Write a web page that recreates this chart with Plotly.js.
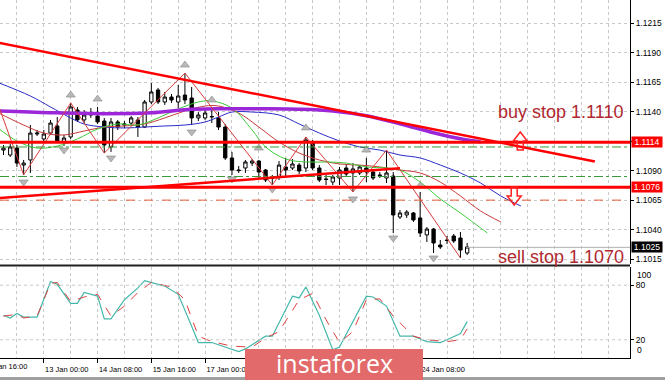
<!DOCTYPE html>
<html><head><meta charset="utf-8">
<script src="https://cdn.plot.ly/plotly-3.0.1.min.js"></script>
<style>html,body{margin:0;padding:0;background:#fff;}#chart{width:665px;height:380px;}</style>
</head><body><div id="chart"></div>
<script>
// ---- EURUSD H4 candles (bar index 0..69) ----
const openP = [1.11074,1.11032,1.11091,1.10947,1.10990,1.11210,1.11168,1.11218,1.11278,1.11142,
1.11185,1.11413,1.11329,1.11371,1.11362,1.11320,1.11100,1.11312,1.11286,1.11303,
1.11329,1.11269,1.11481,1.11583,1.11481,1.11523,1.11481,1.11540,1.11515,1.11346,
1.11346,1.11354,1.11346,1.11269,1.11007,1.10905,1.10922,1.10964,1.10981,1.10905,
1.10837,1.10846,1.10931,1.10922,1.10947,1.10922,1.11134,1.10922,1.10829,1.10803,
1.10837,1.10922,1.10880,1.10880,1.10922,1.10888,1.10863,1.10837,1.10854,1.10507,
1.10524,1.10541,1.10499,1.10355,1.10405,1.10270,1.10312,1.10346,1.10329,1.10202];
const highP = [1.11117,1.11125,1.11117,1.10990,1.11286,1.11244,1.11244,1.11329,1.11354,1.11202,
1.11473,1.11439,1.11413,1.11430,1.11439,1.11346,1.11346,1.11329,1.11320,1.11362,
1.11354,1.11498,1.11642,1.11600,1.11566,1.11549,1.11625,1.11726,1.11608,1.11396,
1.11413,1.11413,1.11396,1.11295,1.11058,1.10939,1.10990,1.10998,1.10990,1.10914,
1.10863,1.10981,1.11007,1.10998,1.10964,1.11185,1.11159,1.10947,1.10863,1.10863,
1.10931,1.10947,1.10964,1.10947,1.11007,1.10905,1.10888,1.11074,1.10888,1.10566,
1.10566,1.10549,1.10719,1.10422,1.10414,1.10312,1.10346,1.10363,1.10380,1.10287];
const lowP = [1.11032,1.11015,1.10931,1.10863,1.10880,1.11193,1.11142,1.11202,1.11134,1.11108,
1.11168,1.11312,1.11303,1.11346,1.11295,1.11049,1.11058,1.11244,1.11261,1.11278,
1.11185,1.11261,1.11464,1.11464,1.11456,1.11473,1.11430,1.11464,1.11286,1.11320,
1.11329,1.11303,1.11244,1.10990,1.10863,1.10880,1.10880,1.10939,1.10837,1.10803,
1.10778,1.10820,1.10846,1.10905,1.10871,1.10888,1.10905,1.10803,1.10778,1.10778,
1.10778,1.10846,1.10719,1.10863,1.10803,1.10820,1.10837,1.10795,1.10371,1.10490,
1.10499,1.10465,1.10338,1.10295,1.10202,1.10236,1.10278,1.10287,1.10160,1.10185];
const closeP = [1.11091,1.11100,1.10964,1.10964,1.11218,1.11218,1.11210,1.11303,1.11151,1.11176,
1.11439,1.11329,1.11371,1.11379,1.11312,1.11117,1.11312,1.11269,1.11295,1.11346,
1.11269,1.11481,1.11566,1.11481,1.11523,1.11498,1.11532,1.11498,1.11346,1.11371,
1.11388,1.11358,1.11269,1.11007,1.10905,1.10900,1.10973,1.10981,1.10888,1.10820,
1.10833,1.10947,1.10905,1.10956,1.10897,1.11159,1.10922,1.10820,1.10825,1.10846,
1.10905,1.10871,1.10914,1.10931,1.10888,1.10837,1.10859,1.10880,1.10524,1.10541,
1.10549,1.10482,1.10371,1.10405,1.10287,1.10253,1.10308,1.10304,1.10227,1.10253];
const bars = openP.map((_, i) => i);

// ---- time axis labels (labels under the logo are not visible in the reference) ----
const timeTickBars = [6,14,22,30,38,46,54,62];
const timeTickText = ['13 Jan 00:00','14 Jan 08:00','15 Jan 16:00','17 Jan 00:00','','','','24 Jan 08:00'];
const gridMinorBars = [2,10,18,26,34,42,50,58,66,70,74,78,82,86,90];
const priceTicks = [1.1015,1.1040,1.1065,1.1090,1.1115,1.1140,1.1165,1.1190,1.1215];
const priceTickText = ['1.1015','1.1040','1.1065','1.1090','','1.1140','1.1165','1.1190','1.1215'];

// ---- Alligator and MA lines (bar, price) ----
const jawBars = [-1,4,7,10,12,15,18,21,24,27,30,32,34,37,41,44,47,50,53,56,59,62,65,68,71,74,77];
const jawVals = [1.11650,1.11532,1.11439,1.11346,1.11295,1.11269,1.11261,1.11269,1.11278,1.11286,1.11312,1.11354,1.11396,1.11396,1.11371,1.11295,1.11218,1.11151,1.11100,1.11074,1.11032,1.11007,1.10947,1.10880,1.10795,1.10685,1.10600];
const teethBars = [-1,3,6,9,12,15,18,21,24,27,30,32,35,38,41,44,47,50,53,56,59,62,65,68,71,74];
const teethVals = [1.11396,1.11286,1.11218,1.11202,1.11235,1.11269,1.11278,1.11295,1.11346,1.11405,1.11447,1.11447,1.11388,1.11269,1.11142,1.11049,1.10990,1.10956,1.10947,1.10931,1.10905,1.10880,1.10803,1.10685,1.10558,1.10465];
const lipsBars = [-1,2,5,8,11,14,17,20,23,26,29,31,34,37,39,42,45,48,51,54,57,59,62,65,68,71,72];
const lipsVals = [1.11269,1.11151,1.11091,1.11108,1.11168,1.11252,1.11295,1.11286,1.11346,1.11422,1.11481,1.11490,1.11430,1.11244,1.11100,1.10998,1.10973,1.10973,1.10964,1.10931,1.10922,1.10905,1.10803,1.10660,1.10541,1.10414,1.10372];
const maBars = [-1,7,15,22,27,32,39,44,49,54,59,64,68,71];
const maVals = [1.11405,1.11390,1.11382,1.11390,1.11416,1.11424,1.11424,1.11420,1.11405,1.11365,1.11297,1.11221,1.11170,1.11145];

// ---- ZigZag ----
const zzBars = [-1,3,10,15,27,40,45,52,57,68];
const zzVals = [1.11490,1.10863,1.11473,1.11049,1.11726,1.10778,1.11185,1.10719,1.11074,1.10160];

// ---- Fractals ----
const fracUpBars = [10,14,27,31,38,45,54,62];
const fracUpVals = [1.11540,1.11506,1.11794,1.11498,1.11091,1.11261,1.11074,1.10770];
const fracDnBars = [3,9,16,28,34,40,52,58,64];
const fracDnVals = [1.10803,1.11074,1.11007,1.11227,1.10829,1.10744,1.10660,1.10329,1.10160];

// ---- Stochastic ----
const stochKBars = [0,1,2,3,5,6,7,8,10,11,12,14,15,16,18,20,21,24,26,28,29,31,33,35,36,39,40,43,44,45,47,49,50,54,55,57,59,61,63,65,66,68,69];
const stochKVals = [47,44,49,45,45,64,84,81,60,60,72,68,43,43,64,77,85,79,70,35,17,17,12,7,10,24,24,68,66,78,47,9,12,68,67,57,24,24,18,17,20,27,40];
const stochDBars = [0,2,3,5,7,8,10,12,14,16,18,20,22,25,27,29,31,34,37,39,41,44,46,48,50,52,54,56,58,61,63,66,68,69];
const stochDVals = [46,48,44,46,82,83,62,67,70,46,57,72,83,78,64,24,18,13,12,22,29,64,71,42,17,29,64,65,46,24,20,18,20,32];

// ---- Levels / objects ----
const redLevels = [1.1114, 1.1076];
const greenLevels = [1.1110, 1.1085];
const dashLevel = 1.1065;
const bidPrice = 1.1025;
const trendDown = {b0:-1, p0:1.11987, b1:88, p1:1.10977};
const trendUp = {b0:-1, p0:1.10666, b1:59, p1:1.10920};
const buyArrow = {bar:76.9, price:1.11151};
const sellArrow = {bar:76.0, price:1.10685};
const buyText = 'buy stop 1.1110', sellText = 'sell stop 1.1070';

const FONT = 'Liberation Sans, Arial, sans-serif';
const traces = [
  {type:'candlestick', x:bars, open:openP, high:highP, low:lowP, close:closeP, xaxis:'x', yaxis:'y',
   increasing:{line:{color:'#000',width:1}, fillcolor:'#ffffff'},
   decreasing:{line:{color:'#000',width:1}, fillcolor:'#000000'}, whiskerwidth:0, hoverinfo:'skip'},
  {type:'scatter', mode:'lines', x:jawBars, y:jawVals, line:{color:'#2b2bc8', width:1, shape:'spline'}, yaxis:'y'},
  {type:'scatter', mode:'lines', x:teethBars, y:teethVals, line:{color:'#c83a3a', width:1, shape:'spline'}, yaxis:'y'},
  {type:'scatter', mode:'lines', x:lipsBars, y:lipsVals, line:{color:'#3ccc3c', width:1, shape:'spline'}, yaxis:'y'},
  {type:'scatter', mode:'lines', x:maBars, y:maVals, line:{color:'#9b27d9', width:3.5, shape:'spline'}, yaxis:'y'},
  {type:'scatter', mode:'lines', x:zzBars, y:zzVals, line:{color:'#d83c3c', width:1}, yaxis:'y'},
  {type:'scatter', mode:'markers', x:fracUpBars, y:fracUpVals, marker:{symbol:'triangle-up', size:8, color:'#b8b8b8', line:{color:'#888888', width:0.6}}, yaxis:'y'},
  {type:'scatter', mode:'markers', x:fracDnBars, y:fracDnVals, marker:{symbol:'triangle-down', size:8, color:'#b8b8b8', line:{color:'#888888', width:0.6}}, yaxis:'y'},
  {type:'scatter', mode:'lines', x:stochKBars, y:stochKVals, line:{color:'#45b8aa', width:1.2}, xaxis:'x', yaxis:'y2'},
  {type:'scatter', mode:'lines', x:stochDBars, y:stochDVals, line:{color:'#e04040', width:1, dash:'dash'}, xaxis:'x', yaxis:'y2'}
];

const shapes = [];
redLevels.forEach(p => shapes.push({type:'line', xref:'paper', x0:0, x1:1, yref:'y', y0:p, y1:p, line:{color:'#ff0000', width:3}}));
greenLevels.forEach(p => shapes.push({type:'line', xref:'paper', x0:0, x1:1, yref:'y', y0:p, y1:p, line:{color:'#3a9a3a', width:1, dash:'dashdot'}}));
shapes.push({type:'line', xref:'paper', x0:0, x1:1, yref:'y', y0:dashLevel, y1:dashLevel, line:{color:'#e8603a', width:1, dash:'dash'}});
shapes.push({type:'line', xref:'paper', x0:0.74, x1:1, yref:'y', y0:bidPrice, y1:bidPrice, line:{color:'#b0b0b0', width:1}});
[trendDown, trendUp].forEach(t => shapes.push({type:'line', xref:'x', yref:'y', x0:t.b0, y0:t.p0, x1:t.b1, y1:t.p1, line:{color:'#ff0000', width:2.5}}));
shapes.push({type:'path', xref:'x', yref:'y', xsizemode:'pixel', ysizemode:'pixel', xanchor:buyArrow.bar, yanchor:buyArrow.price,
  path:'M0,9 L-7,0 L-3,0 L-3,-9 L3,-9 L3,0 L7,0 Z', line:{color:'#ff2020', width:1.5}, fillcolor:'rgba(0,0,0,0)'});
shapes.push({type:'path', xref:'x', yref:'y', xsizemode:'pixel', ysizemode:'pixel', xanchor:sellArrow.bar, yanchor:sellArrow.price,
  path:'M0,-9 L-7,0 L-3,0 L-3,9 L3,9 L3,0 L7,0 Z', line:{color:'#ff2020', width:1.5}, fillcolor:'rgba(0,0,0,0)'});
// stochastic levels
[20,80].forEach(v => shapes.push({type:'line', xref:'paper', x0:0, x1:1, yref:'y2', y0:v, y1:v, line:{color:'#c8c8c8', width:1, dash:'dot'}}));
// panel separator
shapes.push({type:'line', xref:'paper', x0:0, x1:1, yref:'paper', y0:0.2584, y1:0.2584, line:{color:'#202020', width:2}});
// bottom window strip
shapes.push({type:'rect', xref:'paper', x0:0, x1:1.06, yref:'paper', y0:-0.053, y1:-0.07, fillcolor:'#a0a0a0', line:{width:0}});
// logo box
shapes.push({type:'rect', xref:'paper', x0:0.3889, x1:0.6714, yref:'paper', y0:0.0251, y1:-0.07, fillcolor:'#e26a6a', line:{width:0}});

const annotations = [
  {text:buyText, x:92.5, y:1.11396, xref:'x', yref:'y', xanchor:'right', yanchor:'middle', showarrow:false, font:{family:FONT, size:18, color:'#b02830'}},
  {text:sellText, x:92.6, y:1.10168, xref:'x', yref:'y', xanchor:'right', yanchor:'middle', showarrow:false, font:{family:FONT, size:18, color:'#b02830'}},
  {text:'1.1114', x:1, xref:'paper', xanchor:'left', xshift:1, y:redLevels[0], yref:'y', showarrow:false, bgcolor:'#ff0000', width:30, height:10, borderpad:0, font:{family:FONT, size:8.5, color:'#fff'}},
  {text:'1.1076', x:1, xref:'paper', xanchor:'left', xshift:1, y:redLevels[1], yref:'y', showarrow:false, bgcolor:'#ff0000', width:30, height:10, borderpad:0, font:{family:FONT, size:8.5, color:'#fff'}},
  {text:'1.1025', x:1, xref:'paper', xanchor:'left', xshift:1, y:bidPrice, yref:'y', showarrow:false, bgcolor:'#000000', width:30, height:10, borderpad:0, font:{family:FONT, size:8.5, color:'#fff'}},
  {text:'100', x:1, xref:'paper', xanchor:'left', xshift:5, y:100, yref:'y2', yanchor:'top', yshift:-1, showarrow:false, font:{family:FONT, size:8.5, color:'#000'}},
  {text:'0', x:1, xref:'paper', xanchor:'left', xshift:5, y:0, yref:'y2', yanchor:'bottom', yshift:1, showarrow:false, font:{family:FONT, size:8.5, color:'#000'}},
  {text:'12 Jan 16:00', x:3.8, xref:'x', xanchor:'right', y:-0.0045, yref:'paper', yanchor:'top', showarrow:false, font:{family:FONT, size:7.5, color:'#000'}},
  {text:'instaforex', x:0.531, xref:'paper', y:-0.015, yref:'paper', xanchor:'center', yanchor:'middle', showarrow:false, font:{family:'Open Sans, sans-serif', size:25, color:'#ffffff'}}
];

const layout = {
  width:665, height:380,
  margin:{l:0, r:35, t:0, b:22},
  paper_bgcolor:'#ffffff', plot_bgcolor:'#ffffff',
  showlegend:false, hovermode:false,
  font:{family:FONT, color:'#000'},
  xaxis:{range:[-0.52, 93.23], anchor:'y2', rangeslider:{visible:false}, tickmode:'array', tickvals:timeTickBars, ticktext:timeTickText,
    ticks:'outside', ticklen:4, tickcolor:'#000', ticklabelshift:23, tickfont:{family:FONT, size:7.5, color:'#000'},
    showline:true, linecolor:'#000', linewidth:1, showgrid:true, gridcolor:'#c8c8c8', griddash:'dot', gridwidth:1, zeroline:false,
    minor:{tickmode:'array', tickvals:gridMinorBars, showgrid:true, gridcolor:'#c8c8c8', griddash:'dot', gridwidth:1, ticks:''}},
  yaxis:{domain:[0.2626, 1], range:[1.10109, 1.12345], side:'right', anchor:'x', tickmode:'array', tickvals:priceTicks, ticktext:priceTickText,
    ticks:'outside', ticklen:3, tickcolor:'#000', showline:true, linecolor:'#000', linewidth:1, showgrid:true, gridcolor:'#c8c8c8', griddash:'dot',
    zeroline:false, tickfont:{family:FONT, size:8.5, color:'#000'}},
  yaxis2:{domain:[0, 0.2542], range:[0, 100], side:'right', anchor:'x', tickmode:'array', tickvals:[20, 80], ticktext:['20','80'],
    ticks:'outside', ticklen:3, tickcolor:'#000', showline:true, linecolor:'#000', linewidth:1, showgrid:false, zeroline:false,
    tickfont:{family:FONT, size:8.5, color:'#000'}},
  shapes:shapes, annotations:annotations
};
Plotly.newPlot('chart', traces, layout, {staticPlot:true, displayModeBar:false});
</script>
</body></html>
